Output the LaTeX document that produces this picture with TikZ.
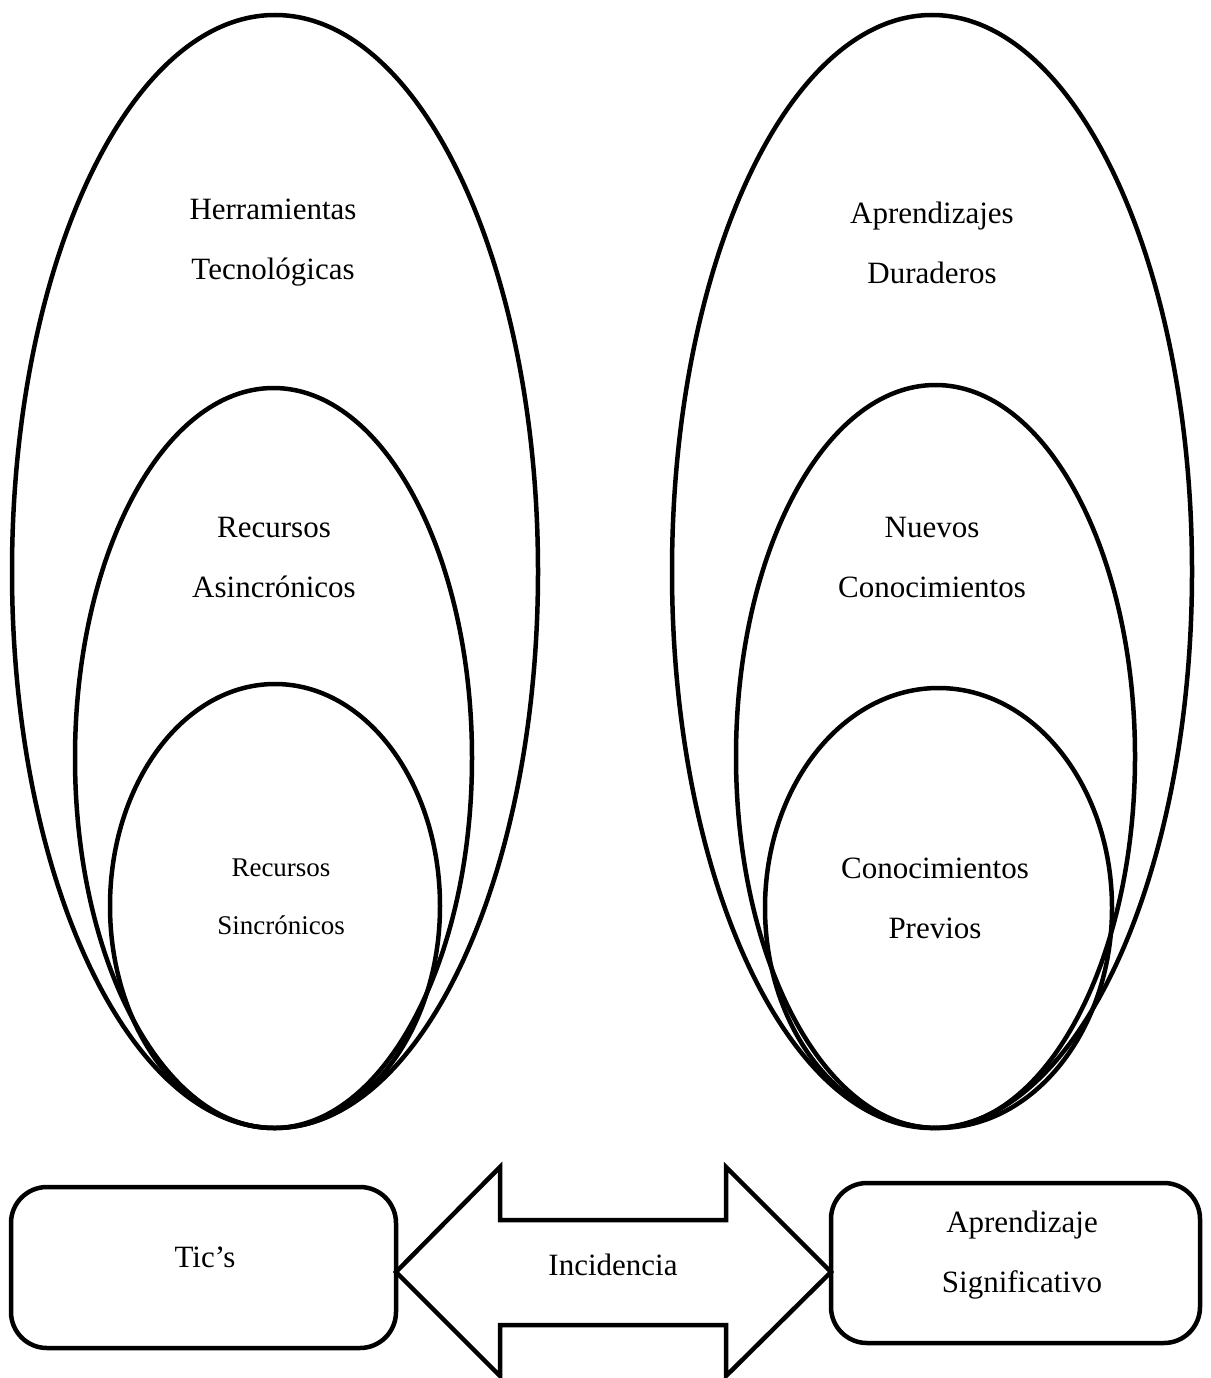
\documentclass[tikz,border=0pt]{standalone}
\usepackage{fontspec}
\setmainfont{Liberation Serif}
\usetikzlibrary{shapes.geometric}
\tikzset{
  oval/.style={draw, ellipse, line width=4.5pt, inner sep=0pt, outer sep=0pt},
  lbl/.style={align=center, inner sep=0pt, font=\fontsize{31}{60}\selectfont},
  lblsmall/.style={align=center, inner sep=0pt, font=\fontsize{27}{58}\selectfont},
  rbox/.style={draw, rectangle, rounded corners=36pt, line width=4.5pt, inner sep=0pt, outer sep=0pt},
}
\begin{document}
\begin{tikzpicture}[x=1pt,y=-1pt]
\useasboundingbox (0,0) rectangle (1210,1378);
% left ellipses
\node[oval, minimum width=526pt, minimum height=1113pt] (LA) at (275,571.5) {};
\node[oval, minimum width=397pt, minimum height=740pt] (LB) at (273.5,758) {};
\node[oval, minimum width=330pt, minimum height=444pt] (LC) at (275,906) {};
% right ellipses
\node[oval, minimum width=520pt, minimum height=1113pt] (RA) at (932,571.5) {};
\node[oval, minimum width=399pt, minimum height=743pt] (RB) at (935.5,756.5) {};
\node[oval, minimum width=347pt, minimum height=440pt] (RC) at (938.5,908) {};
% labels
\node[lbl] (tLA) at (273,243) {Herramientas\\Tecnológicas};
\node[lbl] (tLB) at (274,557) {Recursos\\Asincrónicos};
\node[lblsmall] (tLC) at (281,897) {Recursos\\Sincrónicos};
\node[lbl] (tRA) at (932,243) {Aprendizajes\\Duraderos};
\node[lbl] (tRB) at (932,557) {Nuevos\\Conocimientos};
\node[lbl] (tRC) at (935,898) {Conocimientos\\Previos};
% bottom boxes
\node[rbox, minimum width=385pt, minimum height=161pt] (tic) at (203.5,1267.5) {};
\node[lbl] (tict) at (205,1257) {Tic’s};
\node[rbox, minimum width=369pt, minimum height=160pt] (apr) at (1015.5,1263) {};
\node[lbl] (aprt) at (1022,1255) {Aprendizaje\\Significativo};
% double arrow
\coordinate (tipL) at (tic.east |- 0,1272);
\coordinate (tipR) at (apr.west |- 0,1272);
\draw[line width=4.5pt, line join=miter]
  (tipL) -- (500,1167) -- (500,1220) -- (726,1220) -- (726,1167) -- (tipR)
  -- (726,1376) -- (726,1325) -- (500,1325) -- (500,1376) -- cycle;
\node[lbl] (inc) at (613,1265) {Incidencia};
\end{tikzpicture}
\end{document}
